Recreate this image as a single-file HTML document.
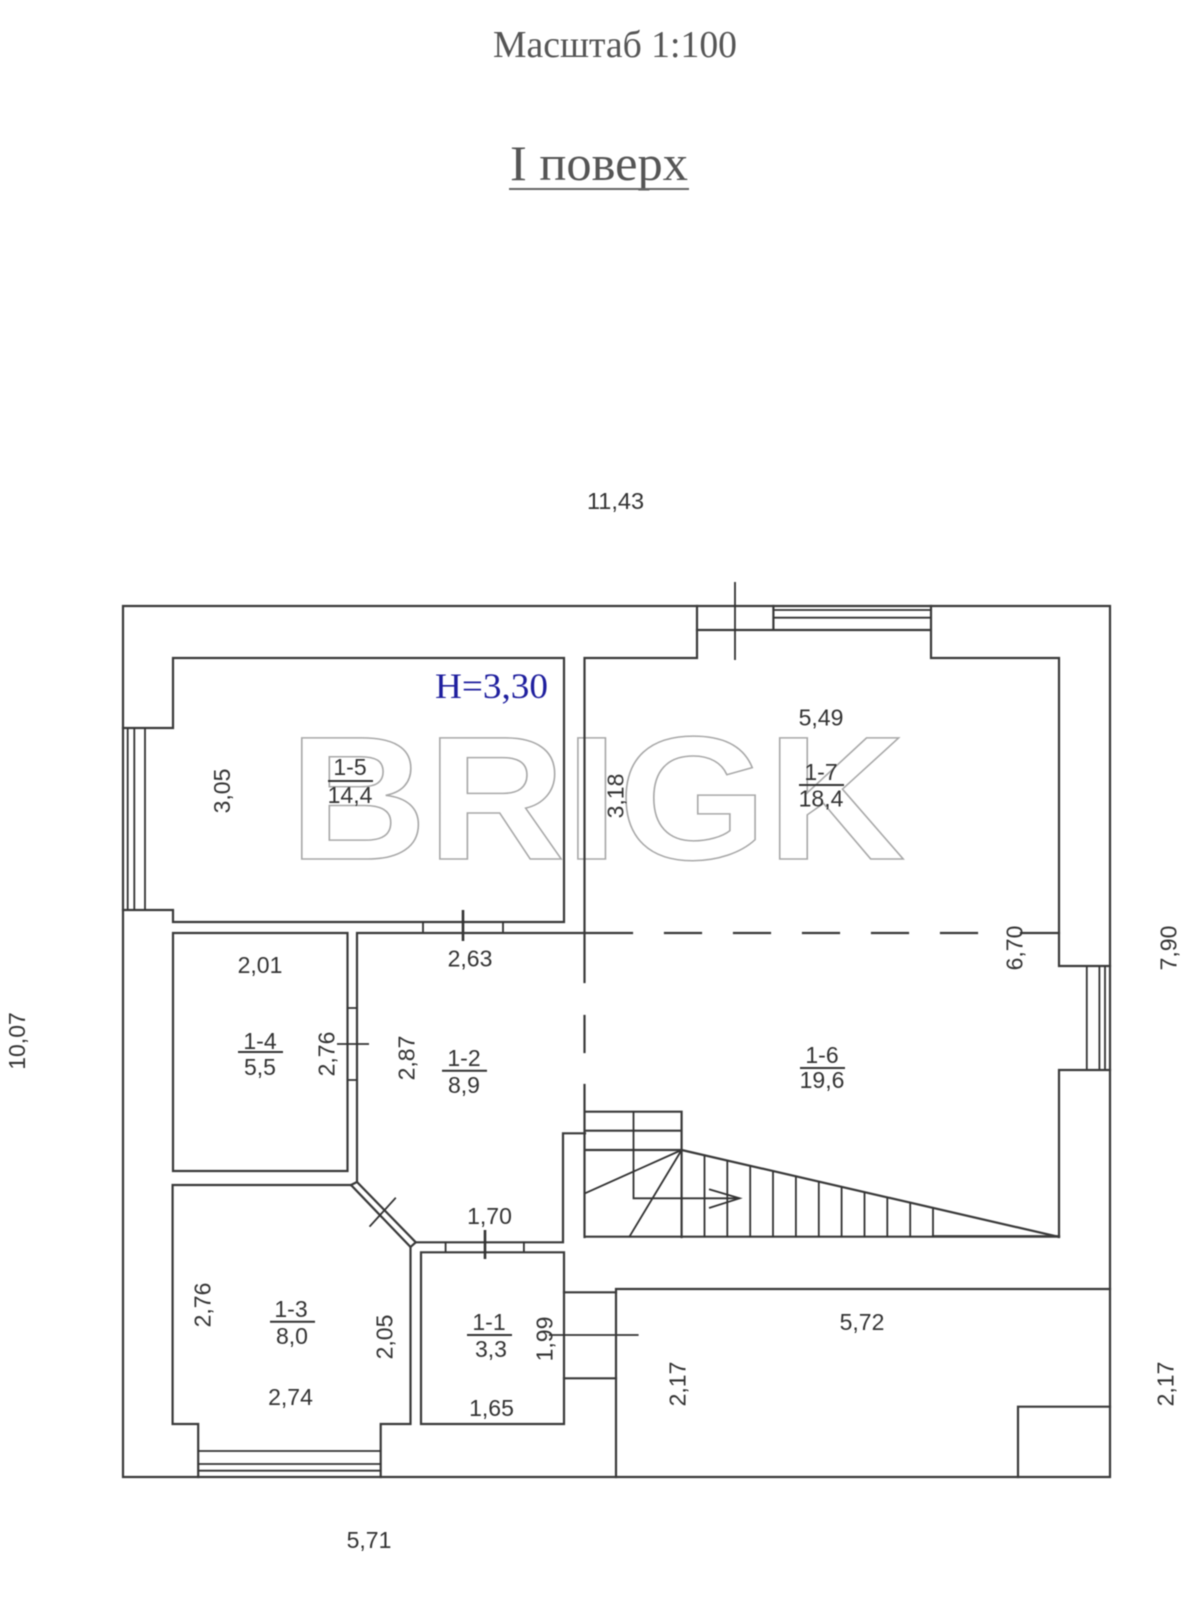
<!DOCTYPE html>
<html lang="uk">
<head>
<meta charset="utf-8">
<title>I поверх</title>
<style>
html,body{margin:0;padding:0;background:#fff;width:1200px;height:1600px;overflow:hidden}
svg{display:block;position:absolute;left:0;top:0;filter:blur(0.45px)}
.w{fill:none;stroke:#3a3a3a;stroke-width:2.2;stroke-linecap:square;stroke-linejoin:miter}
.t{fill:none;stroke:#333;stroke-width:1.8}
.f{fill:none;stroke:#333;stroke-width:2.6}
text{font-family:"Liberation Sans",sans-serif;font-size:23px;fill:#333;text-anchor:middle}
.serif{font-family:"Liberation Serif",serif;fill:#555}
</style>
</head>
<body>
<svg width="1200" height="1600" viewBox="0 0 1200 1600" xmlns="http://www.w3.org/2000/svg">
<!-- Watermark -->
<text x="597" y="859" style="font-family:'Liberation Sans',sans-serif;font-weight:700;font-size:176px;fill:none;stroke:#a8a8a8;stroke-width:1.5" textLength="616" lengthAdjust="spacingAndGlyphs">BRIGK</text>

<!-- Titles -->
<text class="serif" x="615" y="57" style="font-size:38px" textLength="244" lengthAdjust="spacingAndGlyphs">Масштаб 1:100</text>
<text class="serif" x="599" y="180" style="font-size:50px" textLength="178" lengthAdjust="spacingAndGlyphs">I поверх</text>
<line x1="509" y1="189" x2="689" y2="189" stroke="#666" stroke-width="2"/>
<text class="serif" x="491.5" y="698" style="font-size:36px;fill:#1f1f9e" textLength="113" lengthAdjust="spacingAndGlyphs">H=3,30</text>

<!-- Outer walls -->
<path class="w" d="M123 606H1110V1477H123Z"/>

<!-- Room 1-5 -->
<path class="w" d="M123 728H173V658H564V922H173V910H123"/>
<path class="t" d="M127.700 728V910M134.300 728V910M145 728V910"/>
<path class="t" d="M423 922V933M503 922V933"/>
<path class="f" d="M463 910V941"/>

<!-- Room 1-7 / top door + window -->
<path class="w" d="M584.500 933V658H697V606"/>
<path class="w" d="M697 630H931M773.400 606V630M931 606V658H1059V966H1110"/>
<path class="t" d="M773 610H931M773 617.700H931"/>
<path class="t" d="M735 582V660"/>

<!-- Right window -->
<path class="t" d="M1086.800 966V1070M1099.400 966V1070M1105 966V1070"/>
<path class="w" d="M1110 1070H1059V1237"/>

<!-- 1-2 top + dashed -->
<path class="w" d="M357 1182V933H632"/>
<path class="w" d="M665 933H701M734 933H770M803 933H839M872 933H908M941 933H977M1021 933H1059" stroke-linecap="butt"/>
<path class="w" d="M584.500 933V982M584.500 1016V1052M584.500 1085V1237"/>

<!-- Room 1-4 -->
<path class="w" d="M173 933H347.500V1171H173Z"/>
<path class="t" d="M347.500 1008H357M347.500 1080H357"/>
<path class="t" d="M337 1044H369"/>

<!-- Room 1-3 -->
<path class="w" d="M410.500 1247L351 1185H172.600V1424H198.200V1477M380.700 1477V1424H410.500V1247"/>
<path class="t" d="M198 1451H381M198 1464H381M198 1470.700H381"/>
<path class="w" d="M351 1185L357 1182L415.800 1242.300L410.500 1247"/>
<path class="t" d="M369.500 1226.700L395.800 1197.700"/>

<!-- Room 1-1 -->
<path class="w" d="M421 1252.300H564V1424H421Z"/>
<path class="w" d="M415.800 1242.300H563V1133.300H585"/>
<path class="t" d="M445.600 1242V1252M523.900 1242V1252"/>
<path class="f" d="M485 1230V1259"/>
<path class="w" d="M564 1292.300H616M564 1378.300H616"/>
<path class="t" d="M549 1335H638.600"/>

<!-- Porch -->
<path class="w" d="M616 1477V1289H1110"/>
<path class="w" d="M1018 1477V1406.700H1110"/>

<!-- Stairs -->
<path class="w" d="M585 1111.700H681.600V1237M585 1130.700H681.600M585 1150H681.600M585 1236.700H1059"/>
<path class="w" d="M933 1236.200H1059"/>
<path class="t" d="M633.500 1111.700V1198.300H739.600"/>
<path class="t" d="M709 1189.300L739.600 1198.300L709 1208"/>
<path class="t" d="M681.600 1150L585 1193.300M681.600 1150L629.400 1236.700"/>
<path class="w" d="M681.600 1150L1058 1236.700"/>
<path class="t" stroke-width="2" d="M704.500 1155V1237M727.300 1160.500V1237M750.200 1166V1237M773 1171V1237M795.900 1176V1237M818.800 1181.500V1237M841.600 1187V1237M864.500 1192V1237M887.300 1197.500V1237M910.200 1203V1237M933 1208V1237"/>

<!-- Room labels -->
<text x="350" y="775">1-5</text><line x1="328" y1="781" x2="373" y2="781" stroke="#333" stroke-width="2"/><text x="350" y="803">14,4</text>
<text x="821" y="780">1-7</text><line x1="799" y1="785" x2="844" y2="785" stroke="#333" stroke-width="2"/><text x="821" y="806.500">18,4</text>
<text x="822" y="1063">1-6</text><line x1="800" y1="1068" x2="845" y2="1068" stroke="#333" stroke-width="2"/><text x="822" y="1088">19,6</text>
<text x="260" y="1049">1-4</text><line x1="238" y1="1052" x2="283" y2="1052" stroke="#333" stroke-width="2"/><text x="260" y="1075">5,5</text>
<text x="464" y="1066">1-2</text><line x1="442" y1="1070.700" x2="487" y2="1070.700" stroke="#333" stroke-width="2"/><text x="464" y="1093">8,9</text>
<text x="291" y="1317">1-3</text><line x1="270" y1="1321.700" x2="315" y2="1321.700" stroke="#333" stroke-width="2"/><text x="292" y="1344">8,0</text>
<text x="489" y="1330">1-1</text><line x1="467" y1="1335" x2="512" y2="1335" stroke="#333" stroke-width="2"/><text x="491" y="1357">3,3</text>

<!-- Horizontal dims -->
<text x="615.500" y="509" style="font-size:23.500px">11,43</text>
<text x="862" y="1330">5,72</text>
<text x="369" y="1548">5,71</text>
<text x="260" y="973">2,01</text>
<text x="470" y="966.500">2,63</text>
<text x="821" y="725.500">5,49</text>
<text x="489.500" y="1224">1,70</text>
<text x="290.500" y="1405">2,74</text>
<text x="491.500" y="1416">1,65</text>

<!-- Rotated dims -->
<text transform="translate(25 1041) rotate(-90)">10,07</text>
<text transform="translate(1176.500 948) rotate(-90)">7,90</text>
<text transform="translate(1173.500 1384) rotate(-90)">2,17</text>
<text transform="translate(685.500 1384) rotate(-90)">2,17</text>
<text transform="translate(230 791) rotate(-90)">3,05</text>
<text transform="translate(623.500 796) rotate(-90)">3,18</text>
<text transform="translate(1022.500 948) rotate(-90)">6,70</text>
<text transform="translate(334.500 1054) rotate(-90)">2,76</text>
<text transform="translate(414.500 1058) rotate(-90)">2,87</text>
<text transform="translate(210.500 1305) rotate(-90)">2,76</text>
<text transform="translate(392.500 1337) rotate(-90)">2,05</text>
<text transform="translate(552.500 1339) rotate(-90)">1,99</text>
</svg>
</body>
</html>
